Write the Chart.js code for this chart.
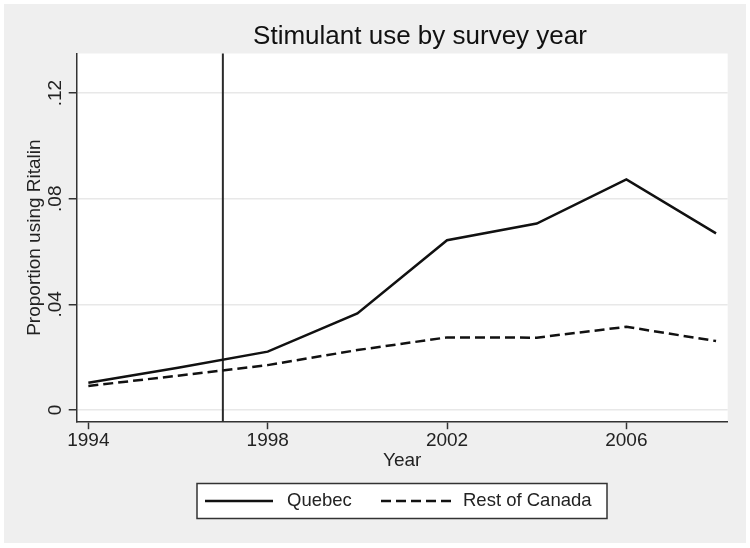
<!DOCTYPE html>
<html>
<head>
<meta charset="utf-8">
<script src="https://cdn.jsdelivr.net/npm/chart.js@4.4.1/dist/chart.umd.min.js"></script>
<style>
  html, body { margin: 0; padding: 0; background: #ffffff; }
  #wrap { width: 750px; height: 548px; }
</style>
</head>
<body>
<div id="wrap"><canvas id="c" width="750" height="548"></canvas></div>
<script>
// ---- data ----
const years = [1994, 1996, 1998, 2000, 2002, 2004, 2006, 2008];
const quebec = [0.0103, 0.0160, 0.0221, 0.0366, 0.0643, 0.0706, 0.0873, 0.0669];
const restOfCanada = [0.0091, 0.0130, 0.0170, 0.0227, 0.0275, 0.0274, 0.0315, 0.0261];
const seriesNames = ['Quebec', 'Rest of Canada'];
const xTickValues = [1994, 1998, 2002, 2006];
const yTickValues = [0, 0.04, 0.08, 0.12];
const yTickLabels = ['0', '.04', '.08', '.12'];
const policyYear = 1997;
const titleText = 'Stimulant use by survey year';
const xTitleText = 'Year';
const yTitleText = 'Proportion using Ritalin';

const FONT = "'Liberation Sans', Arial, sans-serif";
const AXIS = '#333333';

const toPoints = (vals) => years.map((y, i) => ({ x: y, y: vals[i] }));

const decor = {
  id: 'decor',
  beforeDraw(chart) {
    const { ctx, chartArea: a } = chart;
    ctx.save();
    ctx.fillStyle = '#ffffff';
    ctx.fillRect(0, 0, chart.width, chart.height);
    ctx.fillStyle = '#efefef';
    ctx.fillRect(4, 4, 742, 539);
    ctx.fillStyle = '#ffffff';
    ctx.fillRect(a.left, a.top, a.right - a.left, a.bottom - a.top);
    ctx.restore();
  },
  beforeDatasetsDraw(chart) {
    const { ctx, chartArea: a, scales } = chart;
    const px = scales.x.getPixelForValue(policyYear);
    ctx.save();
    ctx.strokeStyle = '#2a2a2a';
    ctx.lineWidth = 2;
    ctx.beginPath();
    ctx.moveTo(px, a.top);
    ctx.lineTo(px, a.bottom);
    ctx.stroke();
    ctx.restore();
  },
  afterDraw(chart) {
    const { ctx } = chart;
    ctx.save();
    // title
    ctx.fillStyle = '#111';
    ctx.font = '26px ' + FONT;
    ctx.textAlign = 'center';
    ctx.textBaseline = 'middle';
    ctx.fillText(titleText, 420, 37);
    // legend box
    const bx = 197, by = 483.5, bw = 410, bh = 35;
    ctx.fillStyle = '#ffffff';
    ctx.fillRect(bx, by, bw, bh);
    ctx.strokeStyle = AXIS;
    ctx.lineWidth = 1.5;
    ctx.strokeRect(bx, by, bw, bh);
    const cy = 501;
    const items = [
      { ds: chart.data.datasets[0], x0: 205, x1: 273, tx: 287 },
      { ds: chart.data.datasets[1], x0: 381, x1: 451, tx: 463 }
    ];
    items.forEach(it => {
      ctx.save();
      ctx.strokeStyle = it.ds.borderColor;
      ctx.lineWidth = it.ds.borderWidth;
      ctx.setLineDash(it.ds.borderDash || []);
      ctx.beginPath();
      ctx.moveTo(it.x0, cy);
      ctx.lineTo(it.x1, cy);
      ctx.stroke();
      ctx.restore();
      ctx.fillStyle = '#222';
      ctx.font = '18.5px ' + FONT;
      ctx.textAlign = 'left';
      ctx.textBaseline = 'middle';
      ctx.fillText(it.ds.label, it.tx, cy);
    });
    ctx.restore();
  }
};

new Chart(document.getElementById('c'), {
  type: 'line',
  data: {
    datasets: [
      { label: seriesNames[0], data: toPoints(quebec), borderColor: '#111111', borderWidth: 2.5,
        pointRadius: 0, tension: 0, fill: false },
      { label: seriesNames[1], data: toPoints(restOfCanada), borderColor: '#111111', borderWidth: 2.5,
        borderDash: [10, 5], pointRadius: 0, tension: 0, fill: false }
    ]
  },
  options: {
    responsive: false,
    animation: false,
    devicePixelRatio: 1,
    layout: { padding: { left: 0, right: 22.3, top: 53.5, bottom: 75.6 } },
    plugins: { legend: { display: false }, title: { display: false }, tooltip: { enabled: false } },
    scales: {
      x: {
        type: 'linear',
        min: 1993.74,
        max: 2008.26,
        afterBuildTicks: (s) => { s.ticks = xTickValues.map(v => ({ value: v })); },
        afterFit: (s) => { s.height = 50.7; },
        grid: { display: true, drawOnChartArea: false, drawTicks: true, tickLength: 7.5, tickColor: AXIS, tickWidth: 1.5 },
        border: { display: true, color: AXIS, width: 1.5 },
        ticks: { font: { family: FONT, size: 19 }, color: '#222', padding: 0, maxRotation: 0, minRotation: 0, autoSkip: false,
                 callback: (v) => String(v) },
        title: { display: true, text: xTitleText, font: { family: FONT, size: 19 }, color: '#222', padding: { top: 0, bottom: 0 } }
      },
      y: {
        type: 'linear',
        min: -0.00443,
        max: 0.1350,
        afterBuildTicks: (s) => { s.ticks = yTickValues.map(v => ({ value: v })); },
        afterFit: (s) => { s.width = 76.7; },
        grid: { color: '#e8e8e8', lineWidth: 1.5, drawTicks: true, tickLength: 8, tickColor: AXIS, tickWidth: 1.5 },
        border: { display: true, color: AXIS, width: 1.5 },
        ticks: { font: { family: FONT, size: 19 }, color: '#222', padding: 0, minRotation: 90, maxRotation: 90,
                 crossAlign: 'center', autoSkip: false,
                 callback: (v) => { const i = yTickValues.findIndex(t => Math.abs(t - v) < 1e-9); return i >= 0 ? yTickLabels[i] : ''; } },
        title: { display: true, text: yTitleText, font: { family: FONT, size: 19 }, color: '#222', padding: { top: 23.5, bottom: 0 } }
      }
    }
  },
  plugins: [decor]
});
</script>
</body>
</html>
